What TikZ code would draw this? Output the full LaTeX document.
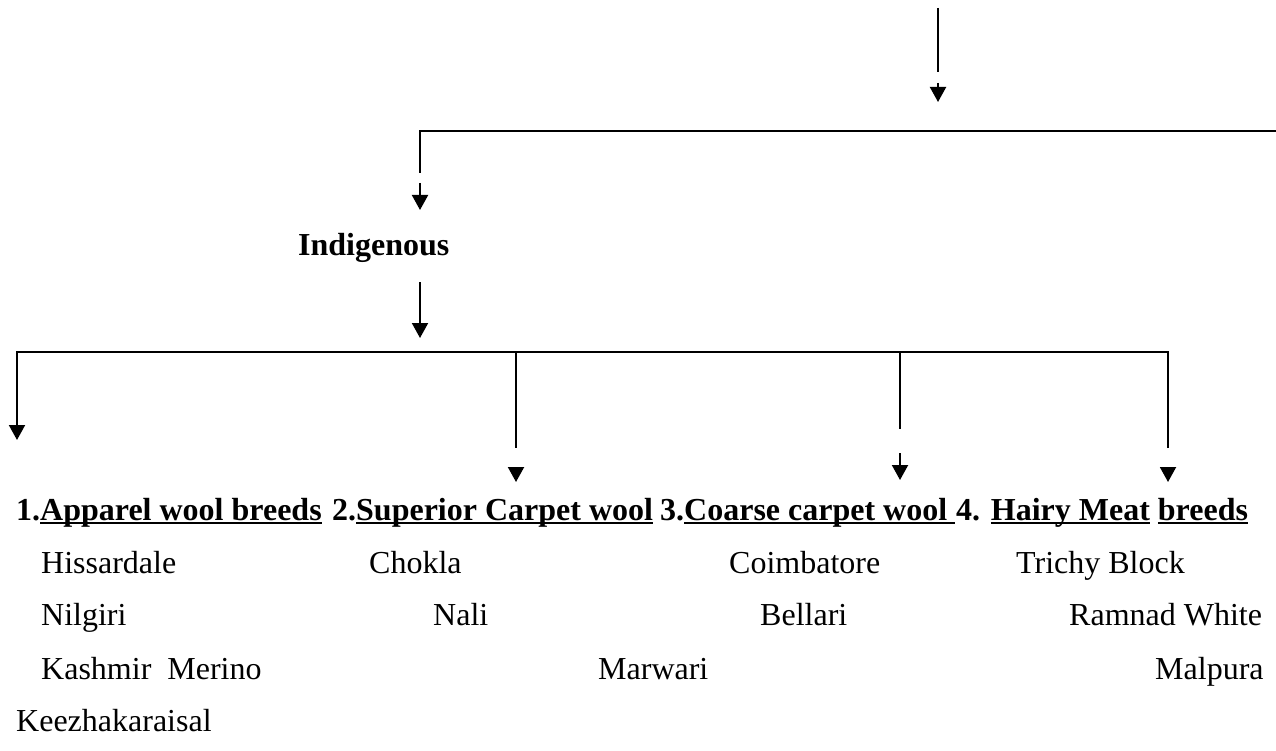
\documentclass[tikz,border=0pt]{standalone}
\usepackage{fontspec}
\setmainfont{Liberation Serif}
\usetikzlibrary{arrows.meta}
\newcommand\ulx[1]{\sbox0{#1}\rlap{\rule[-4pt]{\wd0}{2pt}}\usebox0}
\tikzset{
  conn/.style={line width=2pt, line join=miter},
  arr/.style={conn, -{Triangle[length=15pt,width=16pt]}},
  lbl/.style={inner sep=0pt, anchor=base west, font=\fontsize{32}{38}\selectfont},
  head/.style={lbl, font=\fontsize{32}{38}\selectfont\bfseries},
}
\begin{document}
\begin{tikzpicture}[x=1pt,y=-1pt]
\useasboundingbox (0,0) rectangle (1276,751);
% texts
\node[head] (indig) at (298,256) {Indigenous};
\node[head] (h1) at (16,520) {1.\ulx{Apparel wool breeds}};
\node[head] (h2) at (332,520) {2.\ulx{Superior Carpet wool}};
\node[head] (h3) at (660,520) {3.\ulx{Coarse carpet wool }};
\node[head] (h4) at (956,520) {4. \ulx{Hairy Meat} \ulx{breeds}};
\node[lbl] (a1) at (41,573) {Hissardale};
\node[lbl] (a2) at (41,625) {Nilgiri};
\node[lbl] (a3) at (41,679) {Kashmir\ \ Merino};
\node[lbl] (a4) at (16,731) {Keezhakaraisal};
\node[lbl] (s1) at (369,573) {Chokla};
\node[lbl] (s2) at (433,625) {Nali};
\node[lbl] (s3) at (598,679) {Marwari};
\node[lbl] (c1) at (729,573) {Coimbatore};
\node[lbl] (c2) at (760,625) {Bellari};
\node[lbl] (m1) at (1016,573) {Trichy Block};
\node[lbl] (m2) at (1069,625) {Ramnad White};
\node[lbl] (m3) at (1155,679) {Malpura};
% connector points
\coordinate (t0) at (938,8);
\coordinate (t1) at (938,72);
\coordinate (t2) at (938,83);
\coordinate (t3) at (938,102);
\coordinate (b1R) at (1276,131);
\coordinate (b1L) at (420,131);
\coordinate (b1d) at (420,173);
\coordinate (i0) at (420,183);
\coordinate (i1) at (420,210);
\coordinate (j0) at (420,282);
\coordinate (j1) at (420,338);
\coordinate (p1top) at (17,352);
\coordinate (p1tip) at (17,440);
\coordinate (p2top) at (516,352);
\coordinate (p2bot) at (516,448);
\coordinate (p2a) at (516,467);
\coordinate (p2tip) at (516,482);
\coordinate (p3top) at (900,352);
\coordinate (p3bot) at (900,429);
\coordinate (p3a) at (900,453);
\coordinate (p3tip) at (900,480);
\coordinate (p4top) at (1168,352);
\coordinate (p4bot) at (1168,448);
\coordinate (p4a) at (1168,467);
\coordinate (p4tip) at (1168,482);
% connectors
\draw[conn] (t0) -- (t1);
\draw[arr] (t2) -- (t3);
\draw[conn] (b1R) -- (b1L) -- (b1d);
\draw[arr] (i0) -- (i1);
\draw[arr] (j0) -- (j1);
\draw[arr] (p4bot) -- (p4top) -- (p1top) -- (p1tip);
\draw[conn] (p2top) -- (p2bot);
\draw[arr] (p2a) -- (p2tip);
\draw[conn] (p3top) -- (p3bot);
\draw[arr] (p3a) -- (p3tip);
\draw[arr] (p4a) -- (p4tip);
\end{tikzpicture}
\end{document}
